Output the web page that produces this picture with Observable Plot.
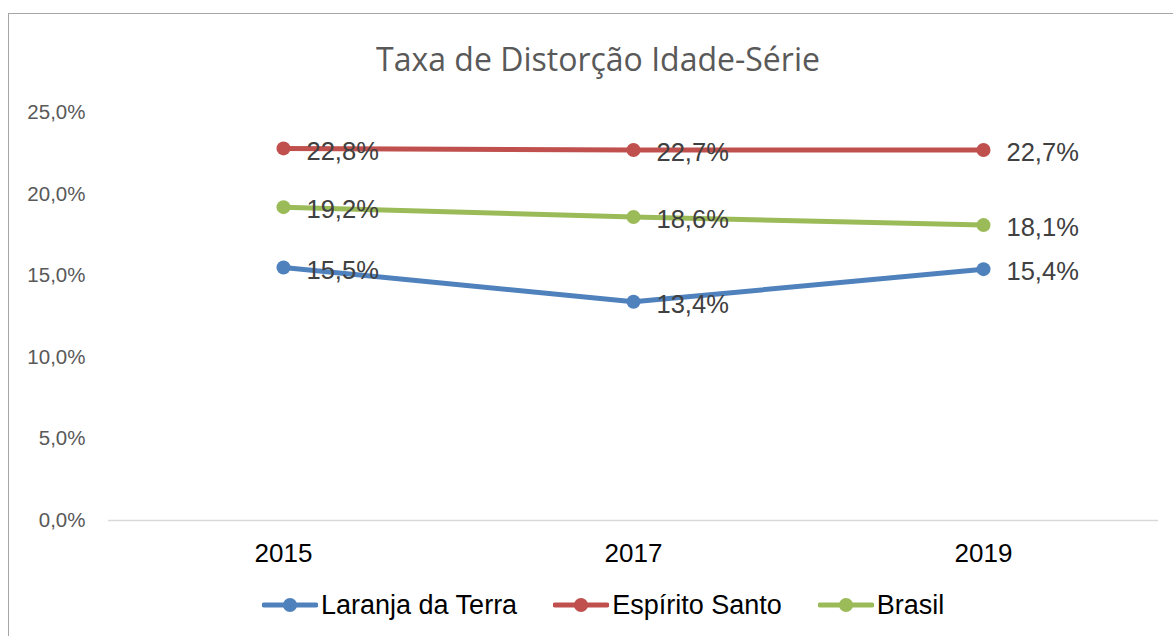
<!DOCTYPE html>
<html>
<head>
<meta charset="utf-8">
<script src="https://cdn.jsdelivr.net/npm/d3@7"></script>
<script src="https://cdn.jsdelivr.net/npm/@observablehq/plot@0.6"></script>
<style>
  html, body { margin: 0; padding: 0; background: #fff; }
  #wrap { position: relative; width: 1173px; height: 636px; overflow: hidden; font-family: "Liberation Sans", Arial, sans-serif; }
  #frame { position: absolute; left: 8px; top: 13px; width: 1200px; height: 700px; border-left: 1.5px solid #a6a6a6; border-top: 1.5px solid #a6a6a6; }
  #title { position: absolute; left: 0; width: 1196px; top: 37px; text-align: center; font-family: "Open Sans", sans-serif; font-size: 32px; color: #595959; line-height: 44px; white-space: nowrap; }
  #chart { position: absolute; left: 0; top: 0; }
  #legend { position: absolute; left: 262px; top: 588px; display: flex; align-items: center; font-size: 27px; color: #000; line-height: 34px; white-space: nowrap; }
  .item { display: flex; align-items: center; margin-right: 36px; }
  .item svg { margin-right: 3px; }
</style>
</head>
<body>
<div id="wrap">
  <div id="frame"></div>
  <div id="title">Taxa de Distorção Idade-Série</div>
  <div id="chart"></div>
  <div id="legend"></div>
</div>
<script>
const years = ["2015", "2017", "2019"];
const seriesNames = ["Laranja da Terra", "Espírito Santo", "Brasil"];
const seriesColors = ["#4F81BD", "#C0504D", "#9BBB59"];
const laranjaDaTerra = [15.5, 13.4, 15.4];
const espiritoSanto = [22.8, 22.7, 22.7];
const brasil = [19.2, 18.6, 18.1];
const yTicks = [0, 5, 10, 15, 20, 25];

const valuesBySeries = [laranjaDaTerra, espiritoSanto, brasil];
const data = [];
seriesNames.forEach((s, i) => {
  years.forEach((y, j) => data.push({ series: s, year: y, value: valuesBySeries[i][j] }));
});

const fmt = v => v.toFixed(1).replace(".", ",") + "%";

const plot = Plot.plot({
  width: 1173,
  height: 570,
  marginLeft: 108,
  marginRight: 15,
  marginTop: 112,
  marginBottom: 50,
  style: { fontFamily: "'Liberation Sans', Arial, sans-serif", background: "transparent", overflow: "visible" },
  x: { type: "point", domain: years, padding: 0.5, label: null },
  y: { domain: [0, 25], label: null },
  color: { domain: seriesNames, range: seriesColors },
  marks: [
    Plot.ruleY([0], { stroke: "#d9d9d9", strokeWidth: 1.5 }),
    Plot.axisY({ ticks: yTicks, tickSize: 0, tickPadding: 23, tickFormat: fmt, fontSize: 20.5, fill: "#595959", label: null }),
    Plot.axisX({ tickSize: 0, tickPadding: 23, fontSize: 26, fill: "#000", label: null }),
    Plot.line(data, { x: "year", y: "value", z: "series", stroke: "series", strokeWidth: 5, strokeLinecap: "round" }),
    Plot.dot(data, { x: "year", y: "value", fill: "series", r: 7, stroke: "none" }),
    Plot.text(data, { x: "year", y: "value", text: d => fmt(d.value), textAnchor: "start", dx: 23, dy: 3, fontSize: 25.5, fill: "#404040" })
  ]
});
document.getElementById("chart").appendChild(plot);

const legend = document.getElementById("legend");
seriesNames.forEach((s, i) => {
  const item = document.createElement("div");
  item.className = "item";
  item.innerHTML = `<svg width="56" height="20"><line x1="2" y1="10" x2="54" y2="10" stroke="${seriesColors[i]}" stroke-width="5" stroke-linecap="round"/><circle cx="28" cy="10" r="7" fill="${seriesColors[i]}"/></svg><span>${s}</span>`;
  legend.appendChild(item);
});
</script>
</body>
</html>
